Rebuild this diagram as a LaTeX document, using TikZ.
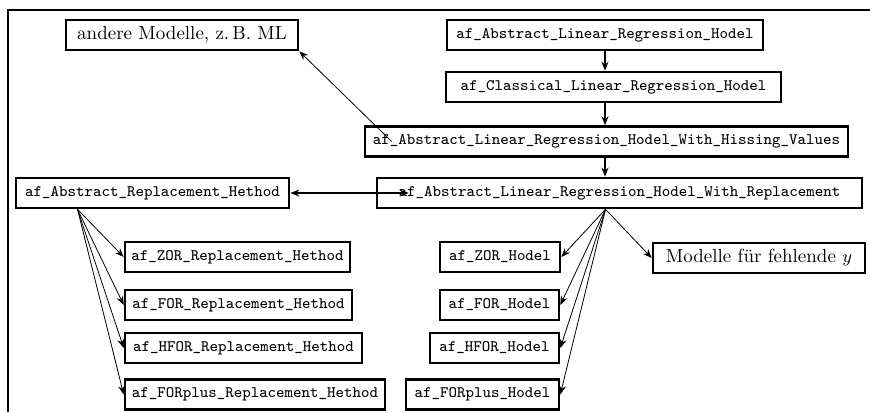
\documentclass[tikz,border=0pt]{standalone}
\usepackage{tikz}
\usetikzlibrary{positioning, arrows.meta}

\begin{document}
\begin{tikzpicture}[
            x=0.5pt, y=-0.5pt,
            >={Stealth[length=4.5pt, width=3.5pt]},
            klasse/.style={
                    draw,
                    line width=1.3pt,
                    minimum height=15pt,
                    inner sep=2pt,
                    fill=white,
                    font=\ttfamily\fontsize{8}{9}\selectfont
                },
            modell/.style={
                    klasse,
                    font=\fontsize{9.5}{11}\selectfont
                },
            pfeil/.style={
                    draw,
                    ->,
                    line width=0.8pt
                },
            duenn/.style={
                    draw,
                    ->,
                    line width=0.4pt
                }
        ]

        \useasboundingbox (0,0) rectangle (870,412);
        \draw[line width=1pt] (8,412) -- (8,10) -- (870,10);

        \node[modell, minimum width=116pt] (andere) at (182,35) {andere Modelle, z.\,B. ML};
        \node[klasse, minimum width=158pt] (abslin) at (605,35) {af\_Abstract\_Linear\_Regression\_Hodel};
        \node[klasse, minimum width=167.5pt] (classic) at (613.5,87) {af\_Classical\_Linear\_Regression\_Hodel};
        \node[klasse, minimum width=241.5pt] (hiss) at (606.5,141.5) {af\_Abstract\_Linear\_Regression\_Hodel\_With\_Hissing\_Values};
        \node[klasse, minimum width=242.5pt] (wrepl) at (619.5,193) {af\_Abstract\_Linear\_Regression\_Hodel\_With\_Replacement};
        \node[klasse, minimum width=136.5pt] (absrepl) at (152.5,193) {af\_Abstract\_Replacement\_Hethod};

        \node[klasse, minimum width=112.5pt] (zorrm) at (237.5,257) {af\_ZOR\_Replacement\_Hethod};
        \node[klasse, minimum width=113.5pt] (forrm) at (238.5,305) {af\_FOR\_Replacement\_Hethod};
        \node[klasse, minimum width=118.5pt] (hforrm) at (243.5,348) {af\_HFOR\_Replacement\_Hethod};
        \node[klasse, minimum width=130pt] (forplusrm) at (255,394.5) {af\_FORplus\_Replacement\_Hethod};

        \node[klasse, minimum width=60pt] (zorm) at (500,257) {af\_ZOR\_Hodel};
        \node[klasse, minimum width=59.5pt] (form) at (499.5,305) {af\_FOR\_Hodel};
        \node[klasse, minimum width=64.5pt] (hform) at (494.5,348) {af\_HFOR\_Hodel};
        \node[klasse, minimum width=76.5pt] (forplusm) at (482.5,394.5) {af\_FORplus\_Hodel};
        \node[modell, minimum width=106pt] (fehlend) at (759,258) {Modelle für fehlende $y$};

        \draw[pfeil] (abslin.south) -- (abslin.south |- classic.north);
        \draw[pfeil] (abslin.south |- classic.south) -- (abslin.south |- hiss.north);
        \draw[pfeil] (abslin.south |- hiss.south) -- (abslin.south |- wrepl.north);
        \draw[duenn] ([xshift=14pt]hiss.west) -- (andere.south east);
        \draw[pfeil, <->] (absrepl.east) -- ([xshift=16.5pt]wrepl.west);

        \coordinate (fanL) at ([xshift=-37.5pt]absrepl.south);
        \foreach \ziel in {zorrm, forrm, hforrm, forplusrm}
            \draw[duenn] (fanL) -- (\ziel.west);

        \coordinate (fanR) at ([xshift=-7pt]wrepl.south);
        \foreach \ziel in {zorm, form, hform, forplusm}
            \draw[duenn] (fanR) -- (\ziel.east);
        \draw[duenn] (fanR) -- (fehlend.west);

    \end{tikzpicture}
\end{document}
